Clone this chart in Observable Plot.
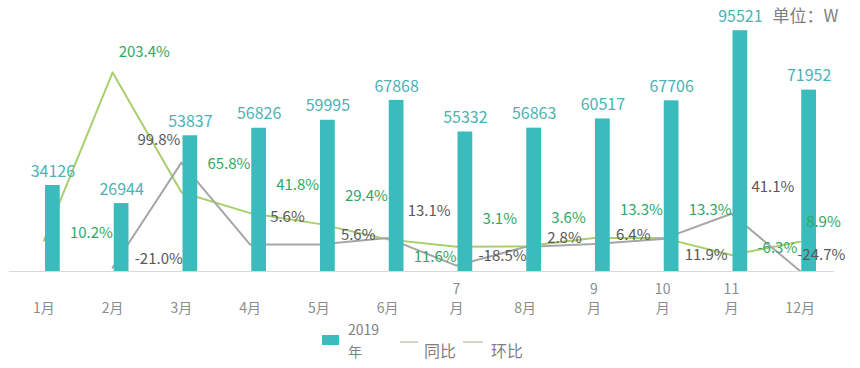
<!DOCTYPE html>
<html>
<head>
<meta charset="utf-8">
<script src="https://cdn.jsdelivr.net/npm/d3@7"></script>
<script src="https://cdn.jsdelivr.net/npm/@observablehq/plot@0.6"></script>
<style>
  body { margin: 0; background: #fff; font-family: "Noto Sans CJK SC", "Noto Sans", sans-serif; }
  #wrap { position: relative; width: 860px; height: 368px; overflow: hidden; }
  #legend { position: relative; width: 860px; height: 50px; color: #7f7f7f; }
  #legend .sw-bar { position: absolute; width: 17px; height: 10px; background: #3bbcbc; }
  #legend .sw-line { position: absolute; height: 1.5px; background: #d6d6c4; }
  #legend .lab { position: absolute; white-space: pre; line-height: 22px; }
</style>
</head>
<body>
<div id="wrap"><div id="chart"></div><div id="legend"></div></div>
<script>
// ---- data ----
const months = ["1月","2月","3月","4月","5月","6月","7月","8月","9月","10月","11月","12月"];
const monthTicks = ["1月","2月","3月","4月","5月","6月","7\n月","8月","9\n月","10\n月","11\n月","12月"];
const sales = [34126, 26944, 53837, 56826, 59995, 67868, 55332, 56863, 60517, 67706, 95521, 71952];
const yoy = [10.2, 203.4, 65.8, 41.8, 29.4, 11.6, 3.1, 3.6, 13.3, 13.3, -6.3, 8.9];
const mom = [null, -21.0, 99.8, 5.6, 5.6, 13.1, -18.5, 2.8, 6.4, 11.9, 41.1, -24.7];
const seriesNames = ["2019\n年", "同比", "环比"];
const unitLabel = "单位：W";
// label placement choice per point (like Excel's data-label position)
const yoyLabelPos = ["mid","top","above","above","above","below","above","above","above","above","mid","top"];
const momLabelPos = [null,"mid","left","above","mid","above","mid","mid","mid","below","above","top"];

// ---- axes ----
const barMax = 107500;             // primary axis max
const pctMin = -25.3, pctMax = 286; // secondary axis range (%)
const toBar = p => (p - pctMin) / (pctMax - pctMin) * barMax;

const rows = months.map((m, i) => ({
  month: m, tick: monthTicks[i], sales: sales[i], yoy: yoy[i], mom: mom[i],
  yoyPos: yoyLabelPos[i], momPos: momLabelPos[i]
}));

const teal = "#3bbcbc", tealText = "#4cb2b4";
const greenLine = "#a8cf6e", greenText = "#2fa866";
const grayLine = "#a6a6a6", grayText = "#595959";

const yoyGroups = {
  above: {dx: 26, dy: -28, textAnchor: "start"},
  top:   {dx: 6,  dy: -20, textAnchor: "start"},
  mid:   {dx: 26, dy: -7,  textAnchor: "start"},
  below: {dx: 26, dy: 18,  textAnchor: "start"}
};
const momGroups = {
  above: {dx: 20, dy: -27, textAnchor: "start"},
  mid:   {dx: 22, dy: -9,  textAnchor: "start"},
  below: {dx: 22, dy: 16,  textAnchor: "start"},
  left:  {dx: -1, dy: -22, textAnchor: "end"},
  top:   {dx: -3, dy: -16, textAnchor: "start"}
};
const fmtPct = v => v.toFixed(1) + "%";

const yoyLabels = Object.entries(yoyGroups).map(([k, o]) =>
  Plot.text(rows.filter(d => d.yoyPos === k), {
    x: "month", y: d => toBar(d.yoy), text: d => fmtPct(d.yoy),
    fill: greenText, fontSize: 15, ...o
  }));
const momLabels = Object.entries(momGroups).map(([k, o]) =>
  Plot.text(rows.filter(d => d.momPos === k), {
    x: "month", y: d => toBar(d.mom), text: d => fmtPct(d.mom),
    fill: grayText, fontSize: 15, ...o
  }));

const chart = Plot.plot({
  width: 860, height: 318,
  marginLeft: 9, marginRight: 26, marginTop: 0, marginBottom: 47,
  x: {type: "band", domain: months, padding: 0, round: false, axis: null},
  y: {domain: [0, barMax], axis: null},
  style: {fontFamily: '"Noto Sans CJK SC", "Noto Sans", sans-serif', background: "transparent", overflow: "visible"},
  marks: [
    Plot.line(rows, {x: "month", y: d => toBar(d.yoy), stroke: greenLine, strokeWidth: 2}),
    Plot.line(rows.filter(d => d.mom != null), {x: "month", y: d => toBar(d.mom), stroke: grayLine, strokeWidth: 2}),
    Plot.barY(rows, {x: "month", y: "sales", fill: teal, insetLeft: 27, insetRight: 27, dx: 9}),
    Plot.ruleY([0], {stroke: "#d9d9d9", strokeWidth: 1.2}),
    Plot.text(rows, {x: "month", y: "sales", text: d => String(d.sales), dx: 9, dy: -14, fill: tealText, fontSize: 16}),
    ...yoyLabels,
    ...momLabels,
    Plot.text(rows, {x: "month", text: "tick", frameAnchor: "bottom", lineAnchor: "bottom", dy: 41,
      fill: "#8c8c8c", fontSize: 14, lineHeight: 1.3}),
    Plot.text([unitLabel], {frameAnchor: "top-right", textAnchor: "end", lineAnchor: "middle", dx: 4, dy: 16, fill: "#7f7f7f", fontSize: 17})
  ]
});
document.getElementById("chart").appendChild(chart);

// ---- legend ----
const lg = document.getElementById("legend");
function add(cls, style, text) {
  const e = document.createElement("span");
  e.className = cls;
  Object.assign(e.style, style);
  if (text != null) e.textContent = text;
  lg.appendChild(e);
}
add("sw-bar", {left: "322px", top: "17px"});
add("lab", {left: "348px", top: "0px", fontSize: "14px"}, seriesNames[0]);
add("sw-line", {left: "400px", top: "23px", width: "18px"});
add("lab", {left: "424px", top: "21px", fontSize: "16px"}, seriesNames[1]);
add("sw-line", {left: "463px", top: "23px", width: "20px"});
add("lab", {left: "491px", top: "21px", fontSize: "16px"}, seriesNames[2]);
</script>
</body>
</html>
